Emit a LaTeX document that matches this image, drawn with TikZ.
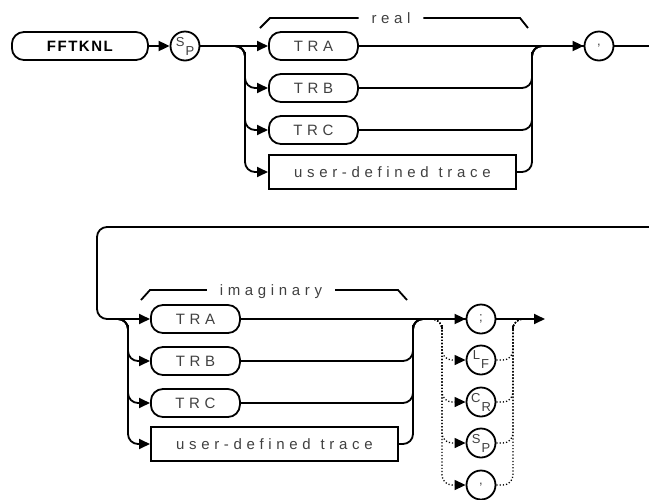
\documentclass[tikz,border=0pt]{standalone}
\usepackage{fontspec}
\setmainfont{Liberation Sans}
\newfontfamily\plotfont{Liberation Sans}[LetterSpace=31]
\newfontfamily\plotbold{Liberation Sans Bold}[LetterSpace=10]
\usetikzlibrary{arrows.meta}
\newcommand\twoch[2]{\raisebox{4pt}{#1}\kern1pt\raisebox{-5pt}{#2}}

\begin{document}
\begin{tikzpicture}[x=1pt, y=-1pt, line width=1.8pt,
        flow/.style={-{Triangle[length=11pt,width=10pt]}, rounded corners=10pt},
        wire/.style={rounded corners=10pt},
        dotflow/.style={flow, line width=1.3pt, dash pattern=on 1.2pt off 2pt},
        dotwire/.style={wire, line width=1.3pt, dash pattern=on 1.2pt off 2pt},
        keyword/.style={draw, rounded corners=12pt, minimum height=28pt, minimum width=89pt,
            inner sep=0pt, anchor=west, text=black!75, font=\plotfont\fontsize{15}{17}\selectfont},
        cmd/.style={keyword, text=black, font=\plotbold\fontsize{15}{17}\selectfont},
        param/.style={keyword, rounded corners=0pt, minimum height=34pt, minimum width=247pt},
        token/.style={draw, circle, minimum size=29pt, inner sep=0pt, text=black!75,
            font=\fontsize{13}{14}\selectfont},
        bracket/.style={anchor=base, inner xsep=12pt, text=black!75,
            font=\plotfont\fontsize{15}{17}\selectfont}]
    \useasboundingbox (0,0) rectangle (649,499);

    % Command and first separator
    \node[cmd, minimum width=136pt] (fftknl) at (11,46) {FFTKNL};
    \node[token] (spA) at (185,46) {\twoch{S}{P}};

    % Real part traces
    \foreach \n/\t/\y in {traA/TRA/46, trbA/TRB/88, trcA/TRC/130}
        \node[keyword] (\n) at (268,\y) {\t};
    \node[param] (userA) at (268,172) {user-defined\makebox[10pt]{}trace};
    \node[token] (commaA) at (599,46) {,};

    \node[bracket] (realtxt) at (391,23) {real};
    \draw (260,28) -- (270,18) -- (realtxt.west |- 0,18);
    \draw (realtxt.east |- 0,18) -- (520,18) -- (528,28);

    % Imaginary part traces
    \foreach \n/\t/\y in {traB/TRA/319, trbB/TRB/361, trcB/TRC/403}
        \node[keyword] (\n) at (150,\y) {\t};
    \node[param] (userB) at (150,444) {user-defined\makebox[10pt]{}trace};

    \node[bracket] (imagtxt) at (271,295) {imaginary};
    \draw (141,300) -- (150,290) -- (imagtxt.west |- 0,290);
    \draw (imagtxt.east |- 0,290) -- (398,290) -- (407,300);

    % Terminators
    \node[token] (semi) at (481,319) {;};
    \node[token] (lf) at (481,360) {\twoch{L}{F}};
    \node[token] (cr) at (481,402) {\twoch{C}{R}};
    \node[token] (spB) at (481,443) {\twoch{S}{P}};
    \node[token] (commaB) at (481,485) {,};

    % Junctions
    \coordinate (splitA) at (245,62);
    \coordinate (mergeA) at (532,62);
    \coordinate (exitA) at (649,46);
    \coordinate (entryB) at (649,227);
    \coordinate (loopB) at (97,270);
    \coordinate (forkB) at (107,319);
    \coordinate (splitB) at (128,335);
    \coordinate (mergeB) at (413,335);
    \coordinate (forkD) at (428,319);
    \coordinate (dotL) at (442,335);
    \coordinate (dotR) at (513,335);
    \coordinate (joinD) at (525,319);
    \coordinate (outB) at (545,319);

    % Top line
    \draw[flow] (fftknl) -- (spA);
    \draw[flow] (spA) -- (traA);
    \foreach \n in {trbA, trcA, userA}
        \draw[flow] (spA.east) -| (splitA) |- (\n.west);
    \draw[flow] (traA) -- (commaA);
    \foreach \n in {trbA, trcA, userA}
        \draw[wire] (\n.east) -| (mergeA) |- (commaA.west);
    \draw (commaA) -- (exitA);

    % Bottom line
    \draw[flow] (entryB) -| (loopB) |- (traB.west);
    \foreach \n in {trbB, trcB, userB}
        \draw[flow] (forkB) -| (splitB) |- (\n.west);
    \draw[flow] (traB) -- (semi);
    \foreach \n in {trbB, trcB, userB}
        \draw[wire] (\n.east) -| (mergeB) |- (semi.west);
    \draw[flow] (semi) -- (outB);

    % Optional terminators (dotted)
    \foreach \n in {lf, cr, spB, commaB} {
        \draw[dotflow] (forkD) -| (dotL) |- (\n.west);
        \draw[dotwire] (\n.east) -| (dotR) |- (joinD);
    }
\end{tikzpicture}
\end{document}
